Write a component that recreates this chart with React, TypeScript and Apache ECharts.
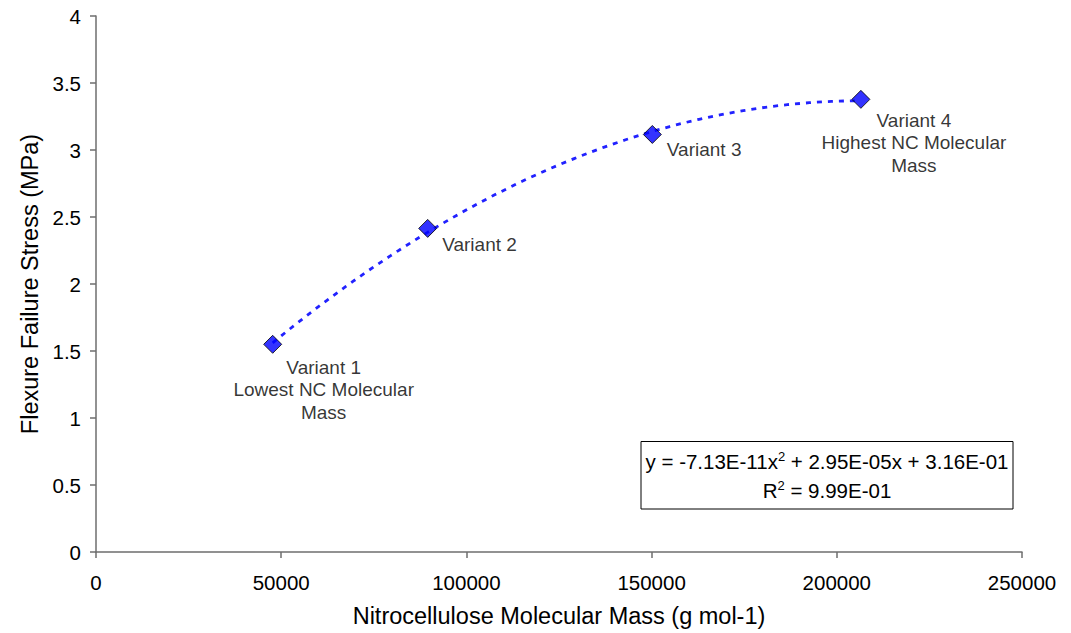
import React, { useEffect, useRef } from "react";
import * as echarts from "echarts";

const massValues = [47700, 89550, 150200, 206500];
const stressValues = [1.55, 2.415, 3.116, 3.378];
const variantLabels = [
  "Variant 1\nLowest NC Molecular\nMass",
  "Variant 2",
  "Variant 3",
  "Variant 4\nHighest NC Molecular\nMass",
];
// Polynomial trendline coefficients as printed on the chart (a x^2 + b x + c)
const trendA = -7.13e-11;
const trendB = 2.95e-5;
const trendC = 3.16e-1;
const trendSteps = 80;
const xTicks = { min: 0, max: 250000, interval: 50000 };
const yTicks = { min: 0, max: 4, interval: 0.5 };

const FONT = "'Liberation Sans', Arial, sans-serif";

export default function App() {
  const ref = useRef<HTMLDivElement>(null);
  useEffect(() => {
    if (!ref.current) return;
    const chart = echarts.init(ref.current, undefined, { renderer: "svg" });
    const x0 = massValues[0];
    const x1 = massValues[massValues.length - 1];
    const trend: number[][] = [];
    for (let i = 0; i <= trendSteps; i++) {
      const x = x0 + ((x1 - x0) * i) / trendSteps;
      trend.push([x, trendA * x * x + trendB * x + trendC]);
    }
    const labelCfg = [
      { position: "bottom", offset: [51, -3] },
      { position: "right", offset: [0, 16] },
      { position: "right", offset: [0, 15] },
      { position: "bottom", offset: [53, -5] },
    ];
    const pts = massValues.map((m, i) => ({
      value: [m, stressValues[i]],
      label: {
        show: true,
        formatter: variantLabels[i],
        position: labelCfg[i].position,
        offset: labelCfg[i].offset,
        align: labelCfg[i].position === "bottom" ? "center" : "left",
        color: "#000",
        fontSize: 19,
        lineHeight: 22.5,
        fontFamily: FONT,
      },
    }));
    const axisColor = "#6e6e6e";
    chart.setOption({
      animation: false,
      backgroundColor: "#fff",
      grid: { left: 96, right: 49, top: 16, bottom: 77 },
      xAxis: {
        type: "value",
        min: xTicks.min,
        max: xTicks.max,
        interval: xTicks.interval,
        name: "Nitrocellulose Molecular Mass (g mol-1)",
        nameLocation: "middle",
        nameGap: 52,
        nameTextStyle: { fontSize: 23.5, color: "#000", fontFamily: FONT },
        axisLine: { lineStyle: { color: axisColor, width: 1.5 } },
        axisTick: { show: true, inside: false, length: 6, lineStyle: { color: axisColor, width: 1.5 } },
        axisLabel: {
          color: "#000",
          fontSize: 20.5,
          fontFamily: FONT,
          margin: 20,
          formatter: (v: number) => String(v),
        },
        splitLine: { show: false },
      },
      yAxis: {
        type: "value",
        min: yTicks.min,
        max: yTicks.max,
        interval: yTicks.interval,
        name: "Flexure Failure Stress (MPa)",
        nameLocation: "middle",
        nameGap: 54,
        nameTextStyle: { fontSize: 23.5, color: "#000", fontFamily: FONT },
        axisLine: { show: true, lineStyle: { color: axisColor, width: 1.5 } },
        axisTick: { show: true, inside: false, length: 6, lineStyle: { color: axisColor, width: 1.5 } },
        axisLabel: {
          color: "#000",
          fontSize: 20.5,
          fontFamily: FONT,
          margin: 15,
          formatter: (v: number) => String(v),
        },
        splitLine: { show: false },
      },
      series: [
        {
          type: "line",
          data: trend,
          showSymbol: false,
          symbol: "none",
          lineStyle: { color: "#2222ff", width: 2.8, type: [5, 6] },
          silent: true,
          z: 1,
        },
        {
          type: "scatter",
          data: pts,
          symbol: "diamond",
          symbolSize: 18,
          itemStyle: { color: "#0000ff", borderColor: "#000", borderWidth: 1 },
          z: 3,
        },
      ],
      graphic: [
        {
          type: "rect",
          shape: { x: 641, y: 441.5, width: 372, height: 67.5 },
          style: { fill: "#fff", stroke: "#000", lineWidth: 1 },
          z: 10,
        },
        {
          type: "text",
          x: 827,
          y: 475.5,
          z: 11,
          style: {
            text: "{a|y = -7.13E-11x}{s|2}{a| + 2.95E-05x + 3.16E-01}\n{a|R}{s|2}{a| = 9.99E-01}",
            align: "center",
            verticalAlign: "middle",
            fill: "#000",
            rich: {
              a: { fontSize: 20.5, lineHeight: 29, fontFamily: FONT, color: "#000" },
              s: { fontSize: 13, lineHeight: 29, fontFamily: FONT, verticalAlign: "top", padding: [3, 0, 0, 0], color: "#000" },
            },
          },
        },
      ],
    });
    return () => chart.dispose();
  }, []);
  return (
    <div
      ref={ref}
      style={{ position: "absolute", left: 0, top: 0, width: 1071, height: 633, background: "#fff" }}
    />
  );
}
